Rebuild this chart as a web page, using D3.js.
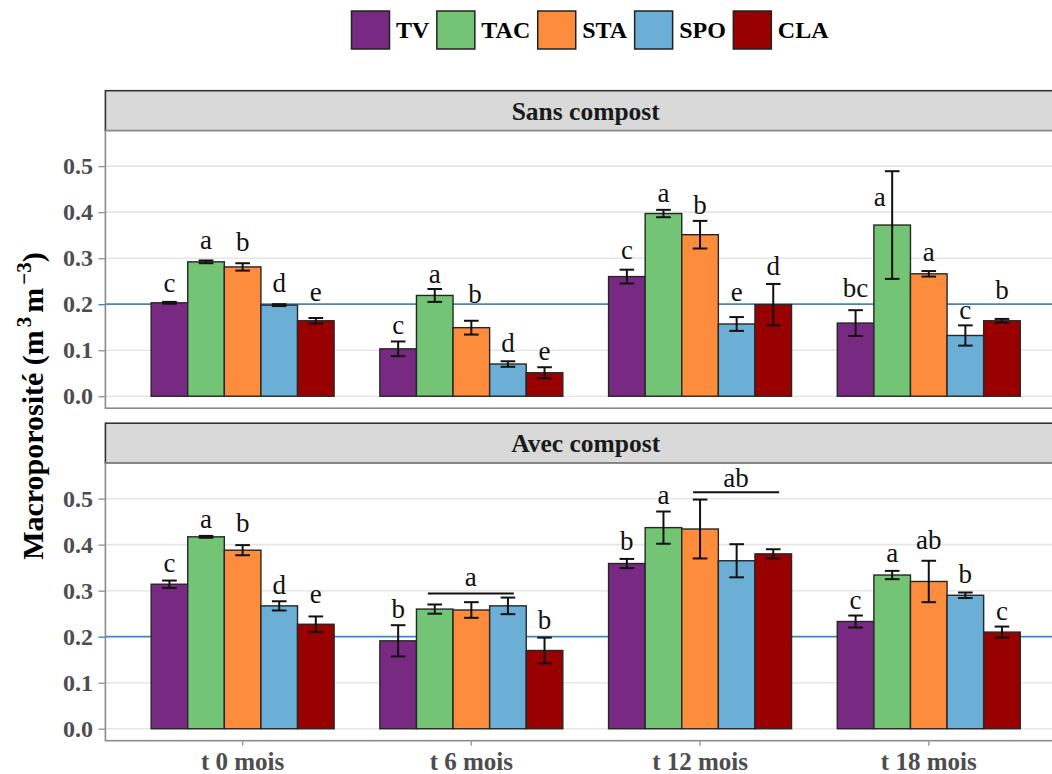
<!DOCTYPE html>
<html>
<head>
<meta charset="utf-8">
<script src="https://cdn.jsdelivr.net/npm/d3@7"></script>
<style>
  html, body { margin: 0; padding: 0; background: #fff; }
  svg { display: block; font-family: "Liberation Serif", "Times New Roman", serif; }
</style>
</head>
<body>
<svg id="chart" width="1052" height="774"></svg>
<script>
// ---------------- DATA ----------------
const categories = ["t 0 mois", "t 6 mois", "t 12 mois", "t 18 mois"];
const series = ["TV", "TAC", "STA", "SPO", "CLA"];
const seriesColors = ["#782A82", "#74C476", "#FD8D3C", "#6BAED6", "#990000"];
const yTicks = [0.0, 0.1, 0.2, 0.3, 0.4, 0.5];
const refLine = 0.2;
const panelNames = ["Sans compost", "Avec compost"];

// Sans compost: one row per time point, values in series order
const sansMean = [
  [0.203, 0.292, 0.281, 0.198, 0.164],
  [0.103, 0.219, 0.149, 0.070, 0.051],
  [0.260, 0.397, 0.351, 0.157, 0.199],
  [0.159, 0.372, 0.266, 0.132, 0.164]
];
const sansErr = [
  [0.002, 0.003, 0.008, 0.002, 0.006],
  [0.016, 0.014, 0.015, 0.006, 0.012],
  [0.015, 0.008, 0.030, 0.015, 0.045],
  [0.028, 0.117, 0.006, 0.022, 0.004]
];
const sansLetters = [
  ["c", "a", "b", "d", "e"],
  ["c", "a", "b", "d", "e"],
  ["c", "a", "b", "e", "d"],
  ["bc", "a", "a", "c", "b"]
];
const sansLetterY = [
  [0.227, 0.321, 0.315, 0.227, 0.206],
  [0.135, 0.245, 0.202, 0.096, 0.079],
  [0.298, 0.421, 0.397, 0.208, 0.263],
  [0.216, 0.413, 0.294, 0.168, 0.211]
];
const sansLetterNudge = [
  [0, 0, 0, 0, 0],
  [0, 0, 0.1, 0, 0],
  [0, 0, 0, 0, 0],
  [0, -0.34, 0, 0, 0]
];

// Avec compost
const avecMean = [
  [0.314, 0.417, 0.388, 0.267, 0.227],
  [0.191, 0.260, 0.258, 0.267, 0.170],
  [0.359, 0.437, 0.434, 0.365, 0.380],
  [0.233, 0.334, 0.320, 0.290, 0.210]
];
const avecErr = [
  [0.008, 0.002, 0.011, 0.010, 0.017],
  [0.034, 0.010, 0.017, 0.018, 0.028],
  [0.010, 0.035, 0.064, 0.036, 0.010],
  [0.013, 0.009, 0.045, 0.006, 0.012]
];
const avecLetters = [
  ["c", "a", "b", "d", "e"],
  ["b", "", "", "", "b"],
  ["b", "a", "", "", ""],
  ["c", "a", "ab", "b", "c"]
];
const avecLetterY = [
  [0.341, 0.436, 0.428, 0.293, 0.274],
  [0.240, 0, 0, 0, 0.216],
  [0.388, 0.488, 0, 0, 0],
  [0.260, 0.363, 0.390, 0.317, 0.236]
];
const avecLetterNudge = [
  [0, 0, 0, 0, 0],
  [0, 0, 0, 0, 0],
  [0, 0, 0, 0, 0],
  [0, 0, 0, 0, 0]
];
// grouped significance brackets (Avec compost)
const avecBracketCat = ["t 6 mois", "t 12 mois"];
const avecBracketFrom = ["TAC", "STA"];
const avecBracketTo = ["SPO", "CLA"];
const avecBracketLabel = ["a", "ab"];
const avecBracketY = [0.294, 0.514];
const avecBracketLabelY = [0.311, 0.525];

// ---------------- LAYOUT ----------------
const W = 1052, H = 774;
const svg = d3.select("#chart");
const panelLeft = 105.4, panelRight = 1066;
const stripH = 40, panelH = 277.5, gapH = 15;
const firstStripTop = 90.7;

const x = d3.scaleBand().domain(categories).range([panelLeft, panelRight])
  .paddingInner(0.2).paddingOuter(0.2);
const xs = d3.scaleBand().domain(series).range([0, x.bandwidth()]).padding(0);
const color = d3.scaleOrdinal().domain(series).range(seriesColors);
const bw = xs.bandwidth();

const panels = [
  { name: panelNames[0], mean: sansMean, err: sansErr, letters: sansLetters, letterY: sansLetterY, nudge: sansLetterNudge, brackets: [] },
  { name: panelNames[1], mean: avecMean, err: avecErr, letters: avecLetters, letterY: avecLetterY, nudge: avecLetterNudge,
    brackets: avecBracketCat.map((c, i) => ({ cat: c, from: avecBracketFrom[i], to: avecBracketTo[i], label: avecBracketLabel[i], y: avecBracketY[i], ly: avecBracketLabelY[i] })) }
];

panels.forEach((p, pi) => {
  const stripTop = firstStripTop + pi * (stripH + panelH + gapH);
  const top = stripTop + stripH;
  const bottom = top + panelH;
  const y = d3.scaleLinear().domain([-0.026, 0.577]).range([bottom, top]);
  const g = svg.append("g");

  // strip
  g.append("rect").attr("x", panelLeft).attr("y", stripTop)
    .attr("width", panelRight - panelLeft).attr("height", stripH)
    .attr("fill", "#d9d9d9").attr("stroke", "#333").attr("stroke-width", 1.6);
  g.append("text").attr("x", (panelLeft + panelRight) / 2).attr("y", stripTop + stripH / 2 + 9)
    .attr("text-anchor", "middle").attr("font-weight", "bold").attr("font-size", 25.5)
    .attr("fill", "#1a1a1a").text(p.name);

  // panel background
  g.append("rect").attr("x", panelLeft).attr("y", top)
    .attr("width", panelRight - panelLeft).attr("height", panelH).attr("fill", "#fff");

  // gridlines
  g.selectAll(".grid").data(yTicks).enter().append("line")
    .attr("x1", panelLeft).attr("x2", panelRight)
    .attr("y1", d => y(d)).attr("y2", d => y(d))
    .attr("stroke", "#e6e6e6").attr("stroke-width", 1.6);

  // reference line
  g.append("line").attr("x1", panelLeft).attr("x2", panelRight)
    .attr("y1", y(refLine)).attr("y2", y(refLine))
    .attr("stroke", "#4a84bd").attr("stroke-width", 1.7);

  // bars
  const rows = [];
  categories.forEach((c, ci) => series.forEach((s, si) => rows.push({
    c, s, v: p.mean[ci][si], e: p.err[ci][si], l: p.letters[ci][si], ly: p.letterY[ci][si], n: p.nudge[ci][si]
  })));
  const cx = d => x(d.c) + xs(d.s) + bw / 2;

  g.selectAll(".bar").data(rows).enter().append("rect")
    .attr("x", d => x(d.c) + xs(d.s)).attr("width", bw)
    .attr("y", d => y(d.v)).attr("height", d => y(0) - y(d.v))
    .attr("fill", d => color(d.s)).attr("stroke", "#262626").attr("stroke-width", 1.4);

  // error bars
  const cap = bw * 0.2;
  const eb = g.selectAll(".eb").data(rows).enter().append("g")
    .attr("stroke", "#111").attr("stroke-width", 2);
  eb.append("line").attr("x1", cx).attr("x2", cx)
    .attr("y1", d => y(d.v - d.e)).attr("y2", d => y(d.v + d.e));
  eb.append("line").attr("x1", d => cx(d) - cap).attr("x2", d => cx(d) + cap)
    .attr("y1", d => y(d.v + d.e)).attr("y2", d => y(d.v + d.e));
  eb.append("line").attr("x1", d => cx(d) - cap).attr("x2", d => cx(d) + cap)
    .attr("y1", d => y(d.v - d.e)).attr("y2", d => y(d.v - d.e));

  // letters
  g.selectAll(".lt").data(rows.filter(d => d.l)).enter().append("text")
    .attr("x", d => cx(d) + d.n * bw).attr("y", d => y(d.ly))
    .attr("text-anchor", "middle").attr("font-size", 27).attr("fill", "#111")
    .text(d => d.l);

  // brackets
  p.brackets.forEach(b => {
    const x1 = x(b.cat) + xs(b.from) + bw / 2 - 0.19 * bw;
    const x2 = x(b.cat) + xs(b.to) + bw / 2 + 0.16 * bw;
    g.append("line").attr("x1", x1).attr("x2", x2)
      .attr("y1", y(b.y)).attr("y2", y(b.y))
      .attr("stroke", "#111").attr("stroke-width", 2);
    g.append("text").attr("x", (x1 + x2) / 2).attr("y", y(b.ly))
      .attr("text-anchor", "middle").attr("font-size", 27).attr("fill", "#111").text(b.label);
  });

  // panel border
  g.append("rect").attr("x", panelLeft).attr("y", top)
    .attr("width", panelRight - panelLeft).attr("height", panelH)
    .attr("fill", "none").attr("stroke", "#8a8a8a").attr("stroke-width", 1.6);

  // y axis
  const ay = g.append("g").attr("transform", `translate(${panelLeft},0)`)
    .call(d3.axisLeft(y).tickValues(yTicks).tickFormat(d3.format(".1f")).tickSize(7).tickPadding(5.5));
  ay.select(".domain").remove();
  ay.selectAll(".tick line").attr("stroke", d => d === refLine ? "#4a84bd" : "#9a9a9a").attr("stroke-width", 1.4);
  ay.selectAll(".tick text").attr("font-family", "Liberation Serif, Times New Roman, serif")
    .attr("font-size", 24).attr("font-weight", "bold").attr("fill", "#4d4d4d");

  // x axis only on bottom panel
  if (pi === panels.length - 1) {
    const ax = g.append("g").attr("transform", `translate(0,${bottom})`)
      .call(d3.axisBottom(x).tickSize(5).tickPadding(6.5));
    ax.select(".domain").remove();
    ax.selectAll(".tick line").attr("stroke", "#9a9a9a").attr("stroke-width", 1.4);
    ax.selectAll(".tick text").attr("font-family", "Liberation Serif, Times New Roman, serif")
      .attr("font-size", 25).attr("font-weight", "bold").attr("fill", "#4d4d4d");
  }
});

// y-axis title
const yt = svg.append("text")
  .attr("transform", "translate(42.5,406) rotate(-90)")
  .attr("text-anchor", "middle").attr("font-size", 30).attr("font-weight", "bold").attr("fill", "#000");
yt.append("tspan").text("Macroporosité (m");
yt.append("tspan").attr("dy", -12).attr("font-size", 21).attr("dx", 3).text("3");
yt.append("tspan").attr("dy", 12).attr("dx", 4).text("m");
yt.append("tspan").attr("dy", -12).attr("font-size", 21).attr("dx", 3).text("\u22123");
yt.append("tspan").attr("dy", 12).text(")");

// legend
const lg = svg.append("g");
const keySize = 38, labelGap = 6.5, itemGap = 7.5;
let cursor = 0;
const items = [];
series.forEach(s => {
  const it = lg.append("g");
  it.append("rect").attr("x", 0).attr("y", 11).attr("width", keySize).attr("height", keySize)
    .attr("fill", color(s)).attr("stroke", "#222").attr("stroke-width", 1.5);
  const t = it.append("text").attr("x", keySize + labelGap).attr("y", 37.7)
    .attr("font-size", 24).attr("font-weight", "bold").attr("fill", "#000").text(s);
  const w = t.node().getComputedTextLength();
  it.attr("transform", `translate(${cursor},0)`);
  cursor += keySize + labelGap + w + itemGap;
});
const legendW = cursor - itemGap;
lg.attr("transform", `translate(${590 - legendW / 2},0)`);
</script>
</body>
</html>
